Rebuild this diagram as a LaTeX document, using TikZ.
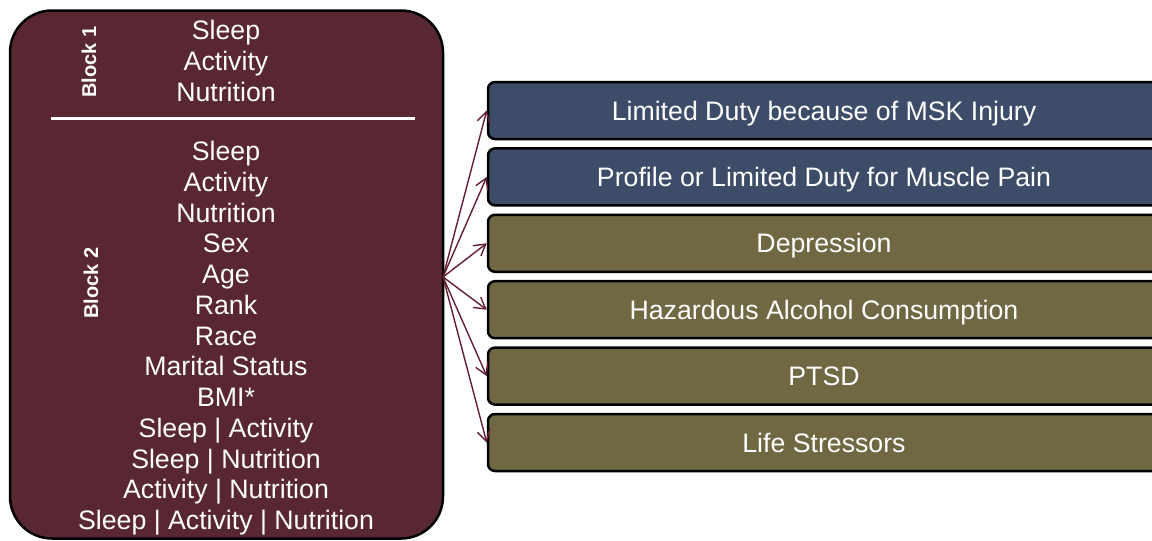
\documentclass[tikz,border=0pt]{standalone}
\usepackage{fontspec}
\setmainfont{Liberation Sans}
\usetikzlibrary{arrows.meta}
\definecolor{maroon}{RGB}{88,39,49}
\definecolor{navy}{RGB}{61,76,104}
\definecolor{olive}{RGB}{111,104,67}
\definecolor{arrowc}{RGB}{100,30,50}
\tikzset{
  lefttxt/.style={text=white, font=\fontsize{26.7}{30.7}\selectfont, anchor=base, inner sep=0pt},
  blocklbl/.style={text=white, font=\fontsize{20}{24}\selectfont\bfseries, rotate=90, inner sep=0pt},
  outbox/.style={draw=black, line width=2.5pt, rounded corners=7pt, minimum width=672pt, minimum height=57pt, inner sep=0pt, text height=19.1pt, text depth=0pt, text=white, font=\fontsize{26.7}{30.7}\selectfont},
  bluebox/.style={outbox, fill=navy},
  olivebox/.style={outbox, fill=olive},
  link/.style={draw=arrowc, line width=1.4pt, -{Straight Barb[length=11pt,width=13pt,line width=1.4pt]}}
}
\begin{document}
\begin{tikzpicture}[x=1pt,y=-1pt]
\useasboundingbox (0,0) rectangle (1152,541);
\clip (0,0) rectangle (1152,541);
% left box
\node[draw=black, line width=2.5pt, fill=maroon, rounded corners=42pt, minimum width=433pt, minimum height=528pt, inner sep=0pt] (left) at (226.5,274.5) {};
\draw[white, line width=3pt] (51,118) coordinate (ls) -- (415,118) coordinate (le);
\node[blocklbl] (blk1) at (89,62) {Block 1};
\node[blocklbl] (blk2) at (91,283) {Block 2};
% block 1 lines
\node[lefttxt] (a1) at (226,39.5) {Sleep};
\node[lefttxt] (a2) at (226,70.2) {Activity};
\node[lefttxt] (a3) at (226,101) {Nutrition};
% block 2 lines
\foreach \t [count=\i from 0] in {Sleep,Activity,Nutrition,Sex,Age,Rank,Race,Marital Status,BMI*,Sleep | Activity,Sleep | Nutrition,Activity | Nutrition,Sleep | Activity | Nutrition}{
  \node[lefttxt] (b\i) at (226,160.5+30.75*\i) {\t};
}
% right boxes
\node[bluebox] (o1) at (824,110.5) {Limited Duty because of MSK Injury};
\node[bluebox] (o2) at (824,176.9) {Profile or Limited Duty for Muscle Pain};
\node[olivebox] (o3) at (824,243.3) {Depression};
\node[olivebox] (o4) at (824,309.7) {Hazardous Alcohol Consumption};
\node[olivebox] (o5) at (824,376.1) {PTSD};
\node[olivebox] (o6) at (824,442.5) {Life Stressors};
% arrows
\coordinate (src) at (443,277);
\foreach \k in {1,...,6}{
  \draw[link] (src) -- (o\k.west);
}
\end{tikzpicture}
\end{document}
